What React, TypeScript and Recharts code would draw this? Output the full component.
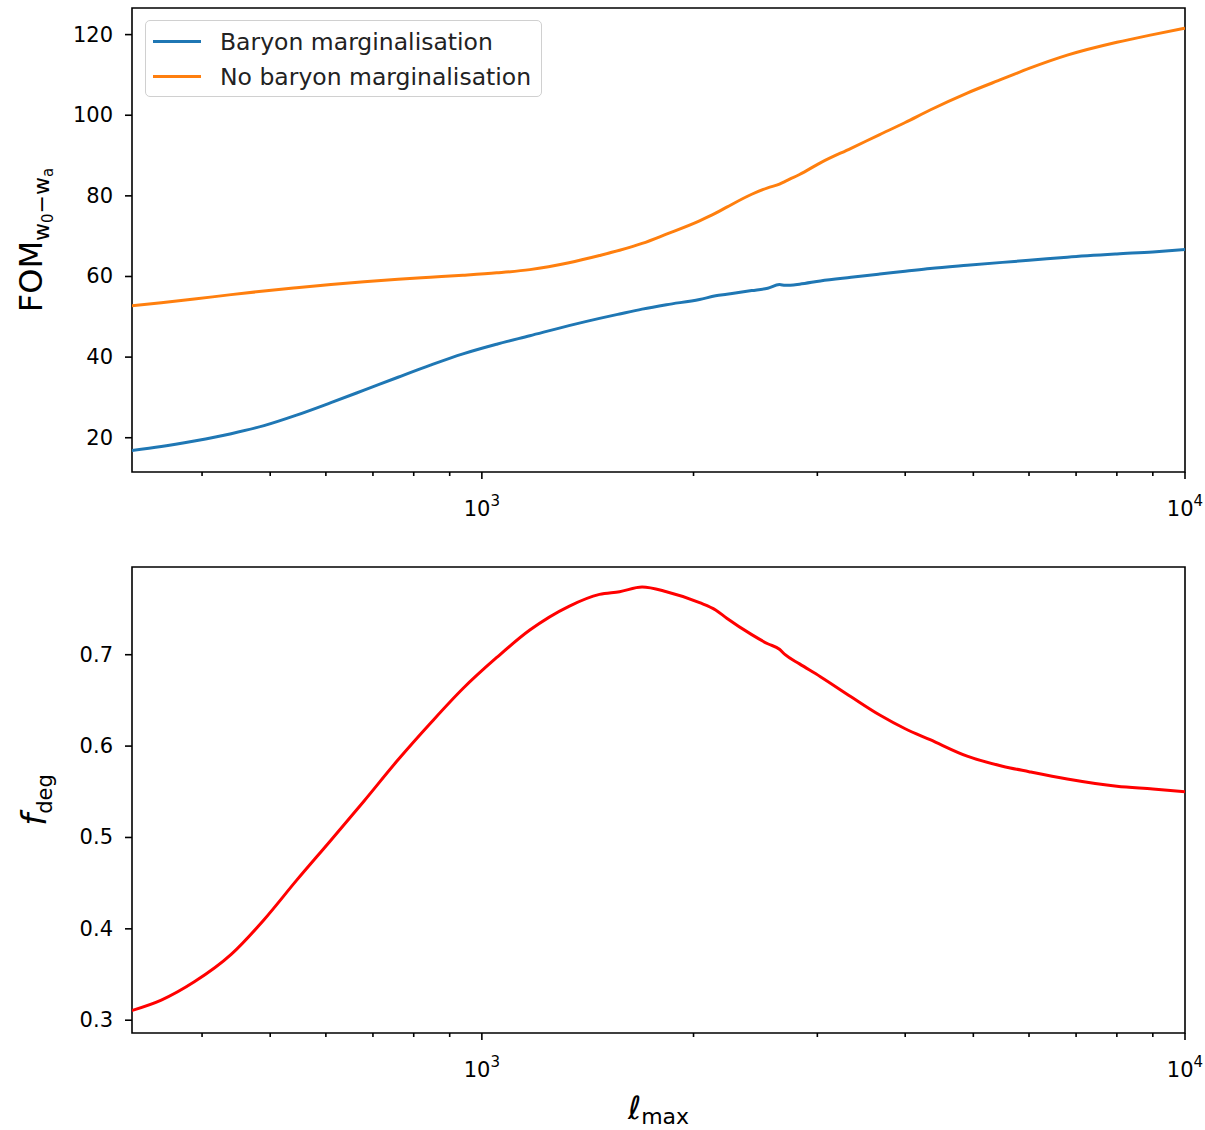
import React from "react";
import {
  LineChart,
  Line,
  XAxis,
  YAxis,
  Legend,
  Label,
  ReferenceArea,
} from "recharts";

// multipole cut-off (log axis)
const ellMax = [
  316, 350, 390, 440, 490, 545, 610, 680, 760, 845, 940, 1050, 1170, 1330, 1470, 1570, 1690,
  1830, 2040, 2150, 2230, 2420, 2550, 2650, 2700, 2830, 3030, 3350, 3680, 4000, 4340, 4900,
  5500, 6000, 6800, 8000, 9000, 10000,
];

// FOM w0-wa with baryon marginalisation
const fomBaryon = [
  16.8, 17.8, 19.2, 21.0, 23.0, 25.6, 28.7, 31.8, 35.0, 38.0, 40.8, 43.2, 45.3, 47.8, 49.6,
  50.7, 51.9, 53.0, 54.3, 55.2, 55.6, 56.5, 57.1, 58.0, 57.8, 58.1, 58.9, 59.8, 60.6, 61.3,
  62.0, 62.8, 63.5, 64.0, 64.8, 65.6, 66.1, 66.7,
];

// FOM w0-wa without baryon marginalisation
const fomNoBaryon = [
  52.7, 53.5, 54.4, 55.5, 56.4, 57.2, 58.0, 58.7, 59.3, 59.8, 60.3, 60.9, 61.7, 63.4, 65.2,
  66.5, 68.2, 70.5, 73.8, 75.7, 77.2, 80.4, 82.0, 82.9, 83.6, 85.3, 88.2, 91.8, 95.2, 98.2,
  101.3, 105.5, 109.0, 111.6, 114.9, 118.1, 120.0, 121.6,
];

// degradation factor
const fDeg = [
  0.31, 0.322, 0.342, 0.372, 0.41, 0.453, 0.497, 0.54, 0.585, 0.625, 0.663, 0.697, 0.727,
  0.753, 0.766, 0.769, 0.774, 0.769, 0.757, 0.749, 0.74, 0.722, 0.712, 0.706, 0.7, 0.69,
  0.676, 0.654, 0.634, 0.619, 0.607, 0.589, 0.578, 0.572, 0.564, 0.556, 0.553, 0.55,
];

const xTicks = [400, 500, 600, 700, 800, 900, 1000, 2000, 3000, 4000, 5000, 6000, 7000, 8000, 9000, 10000];
const xMajor = [1000, 10000];
const fomTicks = [20, 40, 60, 80, 100, 120];
const fDegTicks = [0.3, 0.4, 0.5, 0.6, 0.7];

const X_DOMAIN: [number, number] = [318, 10000];
const FOM_DOMAIN: [number, number] = [11.5, 126.6];
const FDEG_DOMAIN: [number, number] = [0.286, 0.796];

const topRows = ellMax.map((ell, i) => ({ ell, baryon: fomBaryon[i], noBaryon: fomNoBaryon[i] }));
const bottomRows = ellMax.map((ell, i) => ({ ell, fdeg: fDeg[i] }));

const FONT = "DejaVu Sans";
const TICK_FONT = 21;

const XTick = (props: any) => {
  const { x, y, payload } = props;
  const v = payload.value;
  const major = xMajor.includes(v);
  return (
    <g>
      <line x1={x} x2={x} y1={y} y2={y + (major ? 7 : 4)} stroke="#000" strokeWidth={1.6} />
      {major && (
        <text x={x} y={y + 44} textAnchor="middle" fontSize={TICK_FONT} fontFamily={FONT} fill="#000">
          10
          <tspan fontSize={15} dy={-10}>
            {Math.round(Math.log10(v))}
          </tspan>
        </text>
      )}
    </g>
  );
};

const makeYTick = (fmt: (v: number) => string) => (props: any) => {
  const { x, y, payload } = props;
  return (
    <g>
      <line x1={x - 7} x2={x} y1={y} y2={y} stroke="#000" strokeWidth={1.6} />
      <text
        x={x - 19}
        y={y}
        textAnchor="end"
        dominantBaseline="central"
        fontSize={TICK_FONT}
        fontFamily={FONT}
        fill="#000"
      >
        {fmt(payload.value)}
      </text>
    </g>
  );
};

const FomLabel = (props: any) => {
  const { viewBox } = props;
  const cx = 42;
  const cy = viewBox.y + viewBox.height / 2;
  return (
    <text
      x={cx}
      y={cy}
      transform={`rotate(-90, ${cx}, ${cy})`}
      textAnchor="middle"
      fontSize={32}
      fontFamily={FONT}
      fill="#000"
    >
      FOM
      <tspan fontSize={22} dy={7}>w</tspan>
      <tspan fontSize={15} dy={4}>0</tspan>
      <tspan fontSize={22} dy={-4}>−w</tspan>
      <tspan fontSize={15} dy={4}>a</tspan>
    </text>
  );
};

const FDegLabel = (props: any) => {
  const { viewBox } = props;
  const cx = 46;
  const cy = viewBox.y + viewBox.height / 2;
  return (
    <text
      x={cx}
      y={cy}
      transform={`rotate(-90, ${cx}, ${cy})`}
      textAnchor="middle"
      fontSize={34}
      fontFamily={FONT}
      fill="#000"
    >
      <tspan fontStyle="italic">f</tspan>
      <tspan fontSize={21} dy={6}>deg</tspan>
    </text>
  );
};

const EllLabel = (props: any) => {
  const { viewBox } = props;
  const cx = viewBox.x + viewBox.width / 2;
  return (
    <text x={cx} y={viewBox.y + 86} textAnchor="middle" fontSize={32} fontFamily={FONT} fill="#000">
      <tspan fontStyle="italic">ℓ</tspan>
      <tspan fontSize={22} dy={5}>max</tspan>
    </text>
  );
};

const LegendBox = (props: any) => {
  const { payload } = props;
  return (
    <div
      style={{
        width: 397,
        height: 77,
        boxSizing: "border-box",
        border: "1px solid #d0d0d0",
        borderRadius: 5,
        background: "rgba(255,255,255,0.8)",
        padding: "3px 0",
        fontFamily: FONT,
        fontSize: 23.5,
        color: "#222",
      }}
    >
      {(payload || []).map((entry: any) => (
        <div key={entry.value} style={{ display: "flex", alignItems: "center", height: 35 }}>
          <svg width={74} height={35}>
            <line x1={7} x2={55} y1={17.5} y2={17.5} stroke={entry.color} strokeWidth={3} />
          </svg>
          <span style={{ whiteSpace: "nowrap" }}>{entry.value}</span>
        </div>
      ))}
    </div>
  );
};

const Frame = ({ y }: { y: [number, number] }) => (
  <ReferenceArea
    x1={X_DOMAIN[0]}
    x2={X_DOMAIN[1]}
    y1={y[0]}
    y2={y[1]}
    fill="none"
    stroke="#000"
    strokeWidth={1.6}
    ifOverflow="visible"
  />
);

export default function App() {
  return (
    <div
      style={{
        position: "absolute",
        left: 0,
        top: 0,
        width: 1205,
        height: 1130,
        background: "#fff",
        fontFamily: FONT,
      }}
    >
      <LineChart width={1205} height={530} data={topRows} margin={{ top: 8, right: 20, bottom: 0, left: 0 }}>
        <XAxis
          dataKey="ell"
          type="number"
          scale="log"
          domain={X_DOMAIN}
          allowDataOverflow
          ticks={xTicks}
          interval={0}
          tick={<XTick />}
          tickSize={0}
          tickMargin={0}
          axisLine={false}
          height={58}
        />
        <YAxis
          type="number"
          domain={FOM_DOMAIN}
          allowDataOverflow
          ticks={fomTicks}
          interval={0}
          width={132}
          tick={makeYTick((v) => String(v))}
          tickSize={0}
          tickMargin={0}
          axisLine={false}
        >
          <Label content={<FomLabel />} />
        </YAxis>
        {Frame({ y: FOM_DOMAIN })}
        <Line
          type="monotone"
          dataKey="baryon"
          name="Baryon marginalisation"
          stroke="#1f77b4"
          strokeWidth={3}
          dot={false}
          isAnimationActive={false}
        />
        <Line
          type="monotone"
          dataKey="noBaryon"
          name="No baryon marginalisation"
          stroke="#ff7f0e"
          strokeWidth={3}
          dot={false}
          isAnimationActive={false}
        />
        <Legend
          content={<LegendBox />}
          layout="horizontal"
          verticalAlign="middle"
          align="center"
          wrapperStyle={{ left: 145, top: 20, width: 397, height: 77 }}
        />
      </LineChart>
      <LineChart width={1205} height={600} data={bottomRows} margin={{ top: 37, right: 20, bottom: 0, left: 0 }}>
        <XAxis
          dataKey="ell"
          type="number"
          scale="log"
          domain={X_DOMAIN}
          allowDataOverflow
          ticks={xTicks}
          interval={0}
          tick={<XTick />}
          tickSize={0}
          tickMargin={0}
          axisLine={false}
          height={97}
        >
          <Label content={<EllLabel />} />
        </XAxis>
        <YAxis
          type="number"
          domain={FDEG_DOMAIN}
          allowDataOverflow
          ticks={fDegTicks}
          interval={0}
          width={132}
          tick={makeYTick((v) => v.toFixed(1))}
          tickSize={0}
          tickMargin={0}
          axisLine={false}
        >
          <Label content={<FDegLabel />} />
        </YAxis>
        {Frame({ y: FDEG_DOMAIN })}
        <Line
          type="monotone"
          dataKey="fdeg"
          stroke="#ff0000"
          strokeWidth={3}
          dot={false}
          isAnimationActive={false}
        />
      </LineChart>
    </div>
  );
}
